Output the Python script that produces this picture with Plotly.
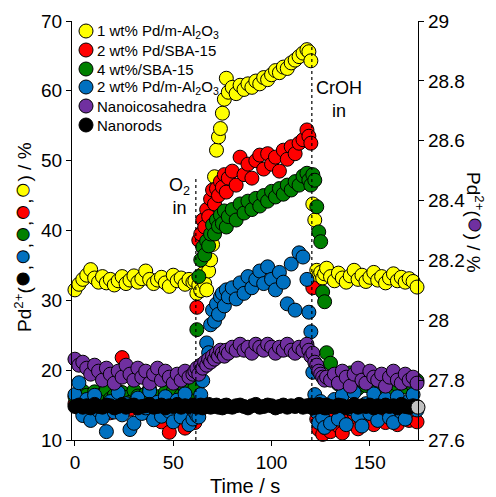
import plotly.graph_objects as go

# ---------------- data ----------------
time_s = [0,2,4,6,8,10,12,14,16,18,20,22,24,26,28,30,32,34,36,38,40,42,44,46,48,50,52,54,56,58,60,
          61,62,63,64,65,66,67,68,69,70,71,72,73,74,75,76,77,78,
          80,82,84,86,88,90,92,94,96,98,100,102,104,106,108,110,112,114,116,118,
          119,120,121,122,123,124,125,126,127,128,
          130,132,134,136,138,140,142,144,146,148,150,152,154,156,158,160,162,164,166,168,170,172,174]

pd_1wt_al2o3 = [31.5,32.3,33.0,33.6,34.4,33.2,32.6,33.4,32.5,33.0,32.2,32.8,33.4,32.4,32.9,33.5,32.6,33.1,34.2,33.0,32.4,32.9,33.3,32.5,32.0,33.6,32.8,33.2,32.3,33.0,32.6,
                32.8,31.0,32.2,31.4,33.8,32.4,31.5,34.2,35.8,38.0,47.7,51.5,53.4,54.6,56.8,58.8,61.8,59.8,
                60.5,59.6,60.8,60.2,61.0,60.5,61.4,61.0,61.9,61.6,62.3,62.9,62.6,63.4,63.2,64.0,64.4,64.9,65.4,65.9,
                65.6,64.3,43.8,41.5,34.3,33.5,34.0,33.2,33.8,34.6,
                33.4,32.8,33.9,33.2,32.6,33.5,34.3,33.0,33.6,32.7,33.3,34.0,32.9,33.4,32.5,33.2,33.8,32.8,33.3,32.6,33.1,32.7,31.9]

pd_2wt_sba15 = [15.2,14.6,16.0,15.4,14.2,15.8,16.4,14.8,15.6,13.9,15.0,16.2,21.8,15.3,14.4,16.0,15.1,14.7,15.9,13.8,14.9,15.6,12.6,14.5,11.1,15.2,14.1,13.0,11.7,12.8,13.9,
                12.5,29.0,38.6,39.5,41.5,40.5,43.0,42.0,44.5,45.8,43.8,46.0,45.0,47.0,46.2,48.0,45.5,47.5,
                48.5,46.5,50.5,48.0,49.5,47.5,50.0,50.8,48.8,51.0,49.5,50.5,48.5,51.5,50.2,52.0,51.0,52.5,53.0,54.4,
                53.5,52.5,31.8,14.5,13.0,11.5,12.8,10.8,11.8,12.6,
                11.2,13.5,12.0,11.0,14.2,12.4,13.8,11.6,14.5,12.9,13.6,12.2,14.8,13.1,12.5,14.0,13.4,12.2,14.6,13.7,12.8,14.2,12.6]

pd_4wt_sba15 = [16.2,15.5,17.0,16.4,15.8,16.9,15.3,16.6,17.2,15.9,16.4,15.6,16.8,16.1,15.4,17.1,16.3,15.7,16.6,17.3,15.9,16.2,15.5,16.8,16.0,17.0,15.6,16.4,17.4,16.1,16.7,
                17.5,25.8,33.4,35.8,37.6,36.5,38.5,37.8,39.5,40.8,39.5,41.5,40.6,42.2,41.0,42.8,40.5,42.0,
                43.0,41.5,43.8,42.5,44.2,43.0,44.6,43.5,45.0,44.2,45.6,44.8,46.0,45.2,46.5,45.8,47.0,46.5,47.8,48.2,
                47.2,46.5,48.0,47.2,43.4,39.8,38.4,31.2,29.8,22.5,
                21.0,19.2,18.0,18.6,17.5,19.6,18.2,17.4,18.8,17.8,18.4,17.6,18.9,17.5,18.1,17.2,18.5,17.9,18.7,17.6,18.3,17.8,18.5]

pd_2wt_al2o3 = [16.5,18.2,13.5,15.8,12.8,16.4,14.2,13.2,11.2,15.5,14.0,16.8,13.6,15.2,11.5,12.4,16.0,13.8,14.6,17.0,12.9,15.4,13.4,16.2,14.1,12.6,15.7,13.3,16.6,12.2,13.0,
                14.0,13.5,13.3,16.5,18.5,21.0,23.9,22.5,26.5,28.6,27.0,29.5,28.0,30.5,31.0,29.2,31.5,30.5,
                31.8,30.2,32.5,31.0,33.4,31.8,33.0,34.2,32.4,34.8,33.0,31.5,34.0,32.6,29.5,35.2,28.6,36.8,36.2,33.0,
                28.3,25.5,19.7,16.5,14.0,12.5,15.5,13.2,11.8,14.6,
                12.4,15.8,13.0,16.4,12.2,14.5,16.8,13.5,12.0,15.2,13.8,16.6,12.8,14.9,15.9,13.2,12.5,16.2,14.0,13.0,15.6,16.5,14.3]

nanoicosahedra = [27.87,27.85,27.86,27.84,27.82,27.85,27.83,27.80,27.84,27.82,27.79,27.83,27.81,27.85,27.82,27.80,27.84,27.81,27.83,27.79,27.82,27.84,27.80,27.83,27.81,27.79,27.82,27.80,27.83,27.81,27.82,
                  27.83,27.84,27.82,27.85,27.84,27.86,27.85,27.87,27.86,27.88,27.87,27.89,27.88,27.90,27.89,27.88,27.90,27.89,
                  27.91,27.90,27.92,27.90,27.91,27.89,27.92,27.91,27.90,27.92,27.91,27.89,27.91,27.90,27.92,27.90,27.89,27.91,27.90,27.92,
                  27.90,27.88,27.89,27.86,27.85,27.83,27.82,27.81,27.80,27.81,
                  27.80,27.82,27.79,27.83,27.81,27.78,27.82,27.84,27.80,27.79,27.83,27.81,27.80,27.82,27.78,27.81,27.83,27.80,27.79,27.82,27.80,27.81,27.79]

nanorods = [14.8,15.0,14.7,14.9,14.6,15.1,14.8,14.7,15.0,14.9,14.6,14.8,15.1,14.7,14.9,15.0,14.6,14.8,14.9,15.1,14.7,14.8,15.0,14.6,14.9,14.8,15.1,14.7,14.9,14.8,15.0,
            14.9,14.7,14.8,15.0,14.6,14.9,14.8,15.1,14.7,14.8,14.9,15.0,14.7,14.8,14.6,14.9,15.0,14.8,
            14.7,14.9,15.0,14.8,14.6,14.9,15.1,14.7,14.8,15.0,14.9,14.6,14.8,15.0,14.7,14.9,14.8,15.1,14.7,14.9,
            14.8,15.0,14.6,14.9,14.7,15.1,14.8,14.9,14.6,15.0,
            14.8,14.7,15.0,14.9,14.6,14.8,15.1,14.7,14.9,14.8,15.0,14.6,14.9,14.7,15.0,14.8,14.9,14.6,15.1,14.8,14.7,14.9,14.8]

end_point_t = [174.5]
end_point_v = [14.7]

legend_names = ["1 wt% Pd/m-Al<sub>2</sub>O<sub>3</sub>", "2 wt% Pd/SBA-15", "4 wt%/SBA-15",
                "2 wt% Pd/m-Al<sub>2</sub>O<sub>3</sub>", "Nanoicosahedra", "Nanorods"]
colors = ["#FFFF00", "#FF0000", "#008000", "#0070C0", "#7030A0", "#000000"]

for s in (pd_1wt_al2o3, pd_2wt_sba15, pd_4wt_sba15, pd_2wt_al2o3, nanoicosahedra, nanorods):
    assert len(s) == len(time_s), len(s)

# ---------------- figure ----------------
FONT = "Arial, Liberation Sans, sans-serif"
W, H = 496, 497
PL, PR, PT, PB = 72, 418, 21, 440

def fx(px):
    return (px - PL) / (PR - PL)

def fy(py):
    return (PB - py) / (PB - PT)

mk = dict(size=14, line=dict(color="black", width=1))

fig = go.Figure()
series_y1 = [pd_1wt_al2o3, pd_2wt_sba15, pd_4wt_sba15, pd_2wt_al2o3]
for vals, name, col in zip(series_y1, legend_names[:4], colors[:4]):
    fig.add_trace(go.Scatter(x=time_s, y=vals, mode="markers", name=name, yaxis="y",
                             marker=dict(color=col, **mk), cliponaxis=False, showlegend=False))
fig.add_trace(go.Scatter(x=time_s, y=nanoicosahedra, mode="markers", name=legend_names[4], yaxis="y2",
                         marker=dict(color=colors[4], **mk), cliponaxis=False, showlegend=False))
fig.add_trace(go.Scatter(x=time_s, y=nanorods, mode="markers", name=legend_names[5], yaxis="y3",
                         marker=dict(color=colors[5], **mk), cliponaxis=False, showlegend=False))
fig.add_trace(go.Scatter(x=end_point_t, y=end_point_v, mode="markers", yaxis="y3",
                         marker=dict(color="#C0C0C0", **mk), cliponaxis=False, showlegend=False))

axis_common = dict(showgrid=False, zeroline=False, showline=True, linecolor="black", linewidth=1.3,
                   ticks="outside", ticklen=5, tickwidth=1.3, tickcolor="black",
                   tickfont=dict(family=FONT, size=19, color="black"))

fig.update_layout(
    width=W, height=H,
    margin=dict(l=PL, r=W - PR, t=PT, b=H - PB, pad=0),
    paper_bgcolor="white", plot_bgcolor="white",
    font=dict(family=FONT, color="black"),
    xaxis=dict(range=[-1.5, 174.5], tickvals=[0, 50, 100, 150], **axis_common),
    yaxis=dict(range=[10, 70], tickvals=[10, 20, 30, 40, 50, 60, 70], **axis_common),
    yaxis2=dict(range=[27.6, 29.0], overlaying="y", side="right",
                tickvals=[27.6, 27.8, 28.0, 28.2, 28.4, 28.6, 28.8, 29.0],
                ticktext=["27.6", "27.8", "28", "28.2", "28.4", "28.6", "28.8", "29"], **axis_common),
    yaxis3=dict(range=[10, 70], overlaying="y", visible=False),
    showlegend=False,
)

shapes = []
annotations = []

# event markers (dotted lines)
shapes.append(dict(type="line", xref="x", yref="y", x0=61.5, x1=61.5, y0=10, y1=47.5,
                   line=dict(color="black", width=1.2, dash="dot")))
shapes.append(dict(type="line", xref="x", yref="y", x0=120.5, x1=120.5, y0=10, y1=66.5,
                   line=dict(color="black", width=1.2, dash="dot")))
annotations.append(dict(x=53.4, y=44.8, xref="x", yref="y", text="O<sub>2</sub><br>in", showarrow=False,
                        font=dict(family=FONT, size=18, color="black"), align="center"))
annotations.append(dict(x=134.3, y=58.7, xref="x", yref="y", text="CrOH<br>in", showarrow=False,
                        font=dict(family=FONT, size=18, color="black"), align="center"))

# manual legend
row_y = [31, 50, 69, 87, 106, 125]
for name, col, yc in zip(legend_names, colors, row_y):
    shapes.append(dict(type="circle", xref="paper", yref="paper",
                       x0=fx(79), x1=fx(93), y0=fy(yc + 7), y1=fy(yc - 7),
                       fillcolor=col, line=dict(color="black", width=1)))
    annotations.append(dict(x=fx(95), y=fy(yc), xref="paper", yref="paper", text=name,
                            xanchor="left", yanchor="middle", showarrow=False,
                            font=dict(family=FONT, size=15, color="black")))

def dot(c):
    return ('<span style="color:%s;font-size:28px;stroke:#000000;stroke-width:0.9px">●</span>' % c)

left_title = ("Pd<sup>2+</sup>(" + ",".join(dot(c) for c in ["#000000", "#0070C0", "#008000", "#FF0000", "#FFFF00"])
              + ") / %")
annotations.append(dict(x=fx(21), y=fy(237), xref="paper", yref="paper", text=left_title, textangle=-90,
                        showarrow=False, xanchor="center", yanchor="middle",
                        font=dict(family=FONT, size=19, color="black")))
right_title = "Pd<sup>2+</sup>(" + dot("#7030A0") + ") / %"
annotations.append(dict(x=fx(477), y=fy(222), xref="paper", yref="paper", text=right_title, textangle=90,
                        showarrow=False, xanchor="center", yanchor="middle",
                        font=dict(family=FONT, size=19, color="black")))
annotations.append(dict(x=0.5, y=fy(486), xref="paper", yref="paper", text="Time / s",
                        showarrow=False, xanchor="center", yanchor="middle",
                        font=dict(family=FONT, size=20, color="black")))

fig.update_layout(shapes=shapes, annotations=annotations)
fig.write_html("out.html")
